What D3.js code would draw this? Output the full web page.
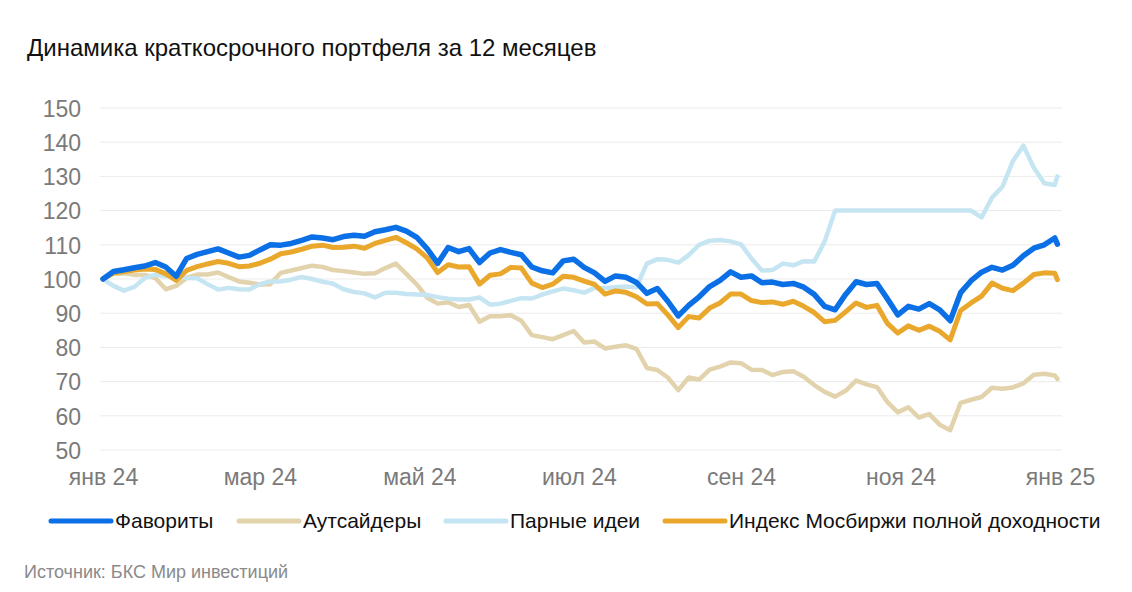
<!DOCTYPE html>
<html>
<head>
<meta charset="utf-8">
<title>Динамика краткосрочного портфеля</title>
<script src="https://cdnjs.cloudflare.com/ajax/libs/d3/7.8.5/d3.min.js"></script>
<style>
  body { margin: 0; background: #fff; }
  svg { display: block; font-family: "Liberation Sans", Arial, sans-serif; }
  .grid line { stroke: #ebebeb; stroke-width: 1; }
  .axis text { fill: #7a7a7a; font-size: 23px; }
  .axis path, .axis line { display: none; }
  .series { fill: none; stroke-linejoin: round; stroke-linecap: round; }
</style>
</head>
<body>
<div id="chart"></div>
<script>
// every 4 days from 1 Jan 2024, plus 31 Dec
var dates = d3.timeDay.range(new Date(2024, 0, 1), new Date(2025, 0, 1), 4).concat([new Date(2024, 11, 31)]);

var favorites = [100,102.2,102.7,103.3,103.8,104.8,103.5,100.8,106,107.2,108,108.8,107.6,106.4,106.9,108.5,110,109.9,110.4,111.3,
  112.3,112,111.5,112.4,112.8,112.5,113.8,114.4,115.1,114,112.2,108.8,104.6,109.2,108,108.9,104.8,107.6,108.6,107.8,
  107.1,103.5,102.4,101.8,105.3,105.8,103.4,101.8,99.3,100.9,100.5,99,95.8,97.2,93.5,89.2,92.3,94.8,97.8,99.6,
  102.1,100.5,100.9,98.9,99.1,98.4,98.7,97.6,95.5,92,91,95.5,99.2,98.4,98.7,94.2,89.5,92,91.2,92.8,
  91,87.8,96,99.5,102,103.4,102.6,104,106.8,109,110,112,110.2];

var outsiders = [100,101.6,101.7,101.2,101.2,100.3,97,98,100.3,101.3,101.3,101.9,100.6,99.3,98.9,98.4,98.5,101.8,102.5,103.2,
  103.9,103.5,102.6,102.3,101.9,101.5,101.7,103.2,104.5,101.5,98.4,94.5,92.8,93.2,91.8,92.4,87.5,89.1,89.1,89.4,
  87.8,83.6,83,82.4,83.6,84.8,81.4,81.7,79.7,80.2,80.6,79.6,74,73.4,71.2,67.5,71.2,70.6,73.5,74.4,
  75.6,75.4,73.5,73.4,71.9,72.8,73,71.4,69,67,65.6,67.3,70.3,69.2,68.4,64,61,62.5,59.5,60.5,
  57.4,55.8,63.8,64.7,65.5,68.2,67.9,68.3,69.5,72,72.3,71.8,70.8];

var pairs = [100,98,96.6,97.7,100.3,101.3,100.8,101,100.3,100.2,98.5,96.9,97.4,97,96.9,98.5,99.3,99.3,99.8,100.6,
  100,99.2,98.6,97,96.2,95.8,94.6,96,96,95.6,95.5,95.3,94.7,94.2,94,94,94.6,92.5,92.8,93.6,
  94.4,94.3,95.4,96.4,97.2,96.7,96,97.4,97.4,97.6,97.8,97.6,104.5,105.8,105.6,104.8,107,110,111.2,111.4,
  111,110.1,106,102.5,102.6,104.5,104,105.2,105.1,111,120,120,120,120,120,120,120,120,120,120,
  120,120,120,120,118,123.8,127,134.5,139,132.5,128,127.5,130];

var moex = [100,101.7,102.2,102.6,102.9,102.8,101.5,99.6,102.5,103.6,104.4,105.1,104.6,103.6,103.8,104.6,105.8,107.4,107.9,108.7,
  109.6,109.9,109.2,109.3,109.6,109,110.4,111.3,112.2,110.6,108.8,106.2,101.9,104.2,103.5,103.6,98.5,101.1,101.5,103.4,
  103.2,98.8,97.5,98.5,100.8,100.5,99.4,98.4,95.6,96.5,96.1,94.8,92.7,92.8,89.5,85.8,89,88.6,91.5,93,
  95.6,95.6,93.7,93.1,93.3,92.6,93.5,92,90.2,87.5,87.9,90.4,93,91.7,92.3,87,84.2,86.3,85,86.2,
  84.7,82.2,90.8,93,95,98.8,97.3,96.6,98.8,101.3,101.8,101.7,99.8];

var seriesNames = ["Фавориты", "Аутсайдеры", "Парные идеи", "Индекс Мосбиржи полной доходности"];
var seriesColors = ["#0b6fe6", "#e2d3ad", "#c6e5f2", "#e9a82c"];
var yTicks = [50, 60, 70, 80, 90, 100, 110, 120, 130, 140, 150];
var xTickDates = [new Date(2024,0,1), new Date(2024,2,1), new Date(2024,4,1), new Date(2024,6,1), new Date(2024,8,1), new Date(2024,10,1), new Date(2025,0,1)];
var xTickLabels = ["янв 24", "мар 24", "май 24", "июл 24", "сен 24", "ноя 24", "янв 25"];

var W = 1132, H = 592;
var svg = d3.select("#chart").append("svg").attr("width", W).attr("height", H);

var xScale = d3.scaleTime().domain([new Date(2024,0,1), new Date(2025,0,1)]).range([103, 1060]);
var yScale = d3.scaleLinear().domain([50, 150]).range([450, 108]);

// title
svg.append("text").text("Динамика краткосрочного портфеля за 12 месяцев")
  .attr("x", 27).attr("y", 56).style("font-size", "24px").style("fill", "#111");

// grid
svg.append("g").attr("class", "grid")
  .selectAll("line").data(yTicks).enter().append("line")
  .attr("x1", 100).attr("x2", 1062)
  .attr("y1", function(d){ return yScale(d); }).attr("y2", function(d){ return yScale(d); });

// y axis
var yAxis = d3.axisLeft(yScale).tickValues(yTicks).tickSize(0).tickPadding(0);
svg.append("g").attr("class", "axis").attr("transform", "translate(81,0)").call(yAxis)
  .selectAll("text").attr("dy", "0.36em");

// x axis
var xAxis = d3.axisBottom(xScale).tickValues(xTickDates).tickSize(0).tickPadding(0)
  .tickFormat(function(d, i){ return xTickLabels[i]; });
svg.append("g").attr("class", "axis").attr("transform", "translate(0,469)").call(xAxis)
  .selectAll("text").attr("dy", "0.71em");

// lines
var line = d3.line()
  .x(function(d){ return xScale(d[0]); })
  .y(function(d){ return yScale(d[1]); });

var drawOrder = [
  {values: outsiders, color: seriesColors[1], w: 4.5},
  {values: pairs, color: seriesColors[2], w: 4.5},
  {values: moex, color: seriesColors[3], w: 5},
  {values: favorites, color: seriesColors[0], w: 5.5}
];
drawOrder.forEach(function(s){
  svg.append("path").attr("class", "series")
    .datum(d3.zip(dates, s.values))
    .attr("d", line)
    .attr("stroke", s.color)
    .attr("stroke-width", s.w);
});

// legend
var legendX = [51, 239, 446, 665];
var legend = svg.append("g").attr("transform", "translate(0,521)");
seriesNames.forEach(function(name, i){
  legend.append("line").attr("x1", legendX[i]).attr("x2", legendX[i] + 60)
    .attr("y1", 0).attr("y2", 0)
    .attr("stroke", seriesColors[i]).attr("stroke-width", 5).attr("stroke-linecap", "round");
  legend.append("text").text(name).attr("x", legendX[i] + 64).attr("y", 0).attr("dy", "0.35em")
    .style("font-size", "21px").style("fill", "#111");
});

// source
svg.append("text").text("Источник: БКС Мир инвестиций")
  .attr("x", 24).attr("y", 578).style("font-size", "18px").style("fill", "#8a8a8a");
</script>
</body>
</html>
